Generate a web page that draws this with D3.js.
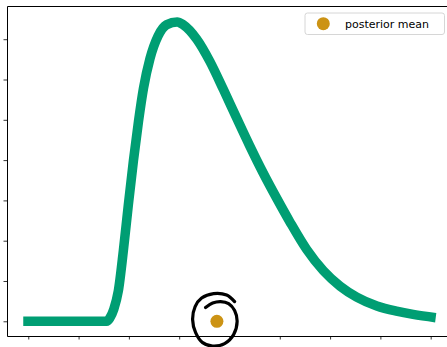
<!DOCTYPE html>
<html>
<head>
<meta charset="utf-8">
<script src="https://cdn.jsdelivr.net/npm/d3@7"></script>
<style>
  html, body { margin: 0; padding: 0; background: #fff; }
  svg { display: block; }
</style>
</head>
<body>
<svg id="chart"></svg>
<script>
// posterior density
const postX = [-0.1, 1.56, 1.62, 1.70, 1.79, 1.89, 1.99, 2.09, 2.19, 2.29, 2.42, 2.58, 2.75, 2.96, 3.08, 3.35, 3.61, 3.88, 4.14, 4.40, 4.67, 4.94, 5.20, 5.53, 5.87, 6.20, 6.53, 6.93, 7.32, 7.65, 8.10];
const postY = [0, 0, 0.08, 0.30, 0.75, 1.75, 2.90, 3.98, 4.95, 5.78, 6.52, 7.08, 7.36, 7.43, 7.36, 7.00, 6.45, 5.75, 5.05, 4.36, 3.68, 3.05, 2.47, 1.79, 1.25, 0.87, 0.60, 0.38, 0.25, 0.17, 0.09];

const meanX = 3.75;
const meanY = 0;

// hand drawn ring round the mean (offsets from the mean, data units)
const ringDX = [-0.225, -0.085, 0.074, 0.233, 0.352, 0.402, 0.332, 0.153, -0.085, -0.284, -0.423, -0.483, -0.433, -0.304, -0.066, 0.193, 0.352];
const ringDY = [0.34, 0.452, 0.489, 0.439, 0.266, -0.007, -0.33, -0.553, -0.615, -0.529, -0.28, 0.042, 0.365, 0.576, 0.687, 0.65, 0.489];

const xTicks = [0, 1, 2, 3, 4, 5, 6, 7, 8];
const yTicks = [0, 1, 2, 3, 4, 5, 6, 7];

const legendLabel = "posterior mean";

const W = 447, H = 347;
const axL = 7, axT = 6, axR = 450, axB = 336;

const green = "#009e73";
const gold = "#cc9314";

const svg = d3.select("#chart")
  .attr("width", W)
  .attr("height", H);

const x = d3.scaleLinear()
  .domain([-0.423, 8.384])
  .range([axL, axR]);

const y = d3.scaleLinear()
  .domain([-0.365, 7.824])
  .range([axB, axT]);

// ticks only, no labels
const xAxis = svg.append("g")
  .attr("transform", "translate(0," + axB + ")")
  .call(d3.axisBottom(x).tickValues(xTicks).tickFormat("").tickSizeOuter(0).tickSizeInner(3.5));
const yAxis = svg.append("g")
  .attr("transform", "translate(" + axL + ",0)")
  .call(d3.axisLeft(y).tickValues(yTicks).tickFormat("").tickSizeOuter(0).tickSizeInner(3.5));
[xAxis, yAxis].forEach(a => {
  a.select(".domain").remove();
  a.selectAll(".tick line").attr("stroke", "#000").attr("stroke-width", 0.8);
});

// spines (left, top, bottom)
svg.append("path")
  .attr("d", "M" + W + "," + (axT + 0.5) + "H" + (axL + 0.5) + "V" + (axB + 0.5) + "H" + W)
  .attr("fill", "none")
  .attr("stroke", "#000")
  .attr("stroke-width", 1);

const line = d3.line()
  .x((d, i) => x(postX[i]))
  .y(d => y(d))
  .curve(d3.curveMonotoneX);

svg.append("path")
  .attr("d", line(postY))
  .attr("fill", "none")
  .attr("stroke", green)
  .attr("stroke-width", 9.5)
  .attr("stroke-linecap", "butt")
  .attr("stroke-linejoin", "round");

svg.append("circle")
  .attr("cx", x(meanX))
  .attr("cy", y(meanY))
  .attr("r", 6.5)
  .attr("fill", gold);

const ring = d3.line()
  .x((d, i) => x(meanX + ringDX[i]))
  .y((d, i) => y(meanY + ringDY[i]))
  .curve(d3.curveCatmullRom);

svg.append("path")
  .attr("d", ring(ringDX))
  .attr("fill", "none")
  .attr("stroke", "#000")
  .attr("stroke-width", 3.2)
  .attr("stroke-linecap", "round")
  .attr("stroke-linejoin", "round");

// legend
const lg = svg.append("g").attr("transform", "translate(305,13)");
lg.append("rect")
  .attr("width", 139.5)
  .attr("height", 21.5)
  .attr("rx", 2.5)
  .attr("fill", "#fff")
  .attr("fill-opacity", 0.8)
  .attr("stroke", "#d6d6d6")
  .attr("stroke-width", 1);
lg.append("circle")
  .attr("cx", 18.3)
  .attr("cy", 10.7)
  .attr("r", 6.5)
  .attr("fill", gold);
lg.append("text")
  .attr("x", 40)
  .attr("y", 14.6)
  .attr("font-family", "DejaVu Sans")
  .attr("font-size", 11)
  .attr("fill", "#000")
  .text(legendLabel);
</script>
</body>
</html>
